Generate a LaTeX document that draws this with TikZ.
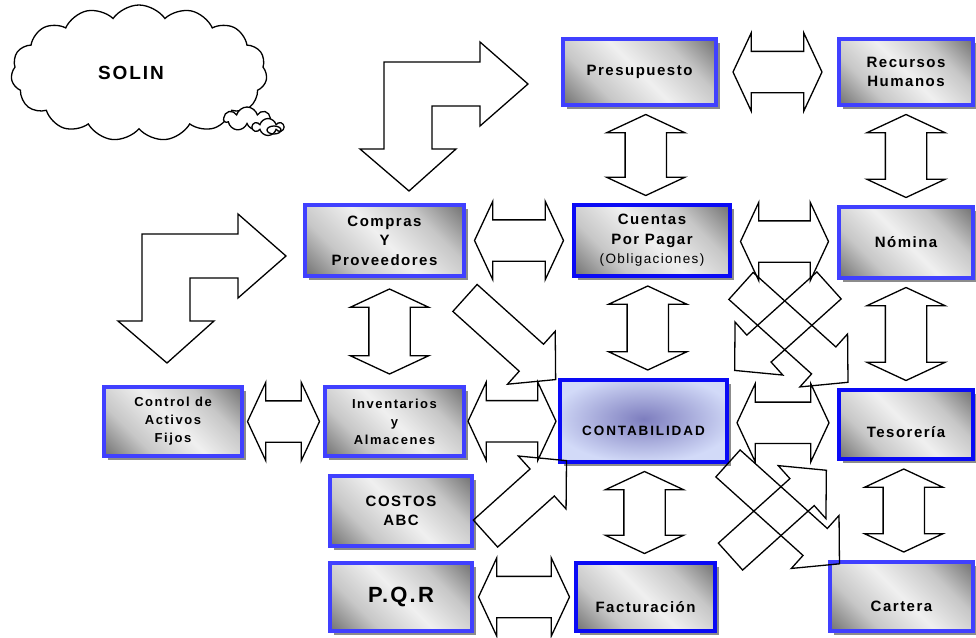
\documentclass[tikz,border=0pt]{standalone}
\usepackage{fontspec}
\setmainfont{Liberation Sans}
\newfontfamily\boxfont{Liberation Sans}[LetterSpace=10]
\newfontfamily\smallfont{Liberation Sans}[LetterSpace=12]
\newfontfamily\contfont{Liberation Sans}[LetterSpace=14]
\usetikzlibrary{calc,shapes.symbols,shapes.arrows,shapes.geometric,shadows}
\definecolor{boxblue}{RGB}{64,64,255}
\definecolor{deepblue}{RGB}{10,10,245}
\definecolor{contfill}{RGB}{210,218,248}
\definecolor{contspot}{RGB}{125,125,190}
\pgfdeclareverticalshading{brillo}{100bp}{color(0bp)=(black!55); color(15bp)=(black!55);
  color(32bp)=(black!22); color(50bp)=(black!6); color(68bp)=(black!22);
  color(85bp)=(black!55); color(100bp)=(black!55)}

\tikzset{
  modulo/.style={rectangle, draw=boxblue, line width=4pt, inner sep=0pt, align=center,
    font=\boxfont\bfseries\fontsize{15}{19.5}\selectfont,
    drop shadow={shadow xshift=4pt, shadow yshift=-4pt, fill=black!45, opacity=1}},
  gris/.style={modulo, shading=brillo, shading angle=-45},
  doble/.style={double arrow, draw, line width=1.3pt, inner xsep=0pt, inner ysep=20pt,
    double arrow head extend=18.5pt, double arrow tip angle=130},
  flecha/.style={single arrow, draw, line width=1.3pt, inner xsep=0pt, inner ysep=17.5pt,
    single arrow head extend=17.5pt, single arrow tip angle=95, anchor=tail},
  codo/.pic={\draw[line width=1.3pt] (0,0) -- (96,0) -- (96,-20) -- (144,22) -- (96,64) -- (96,44)
    -- (48,44) -- (48,87) -- (72,87) -- (25,129) -- (-24,87) -- (0,87) -- cycle;}
}

\begin{document}
\begin{tikzpicture}[x=1pt,y=-1pt]
\useasboundingbox (0,0) rectangle (976,637);
% nube
\node [cloud, draw, line width=1.3pt, cloud puffs=15, cloud puff arc=110, minimum width=256pt, minimum height=136pt,
  font=\boxfont\bfseries\fontsize{19}{22}\selectfont] at (139,73) (solin) {SOLIN\hspace*{16pt}};
\node [cloud, draw, fill=white, line width=1.3pt, cloud puffs=7, minimum width=46pt, minimum height=24pt, inner sep=0pt] at (247,119) (burbuja) {};
\node [cloud, draw, fill=white, line width=1.3pt, cloud puffs=6, minimum width=30pt, minimum height=17pt, inner sep=0pt] at (268,127) (burbujita) {};
\node [ellipse, draw, line width=1.3pt, minimum width=14pt, minimum height=8pt, inner sep=0pt] at (274,130) (ojo) {};
% modulos
\node [gris, minimum width=153pt, minimum height=66pt] at (639.5,72) (pres) {Presupuesto};
\node [gris, minimum width=134pt, minimum height=66pt] at (906,72) (rh) {Recursos\\Humanos};
\node [gris, minimum width=159pt, minimum height=71pt] at (384.5,240.5) (comp) {Compras\\Y\\Proveedores};
\node [gris, draw=deepblue, minimum width=156pt, minimum height=71pt] at (652,240.5) (cxp) {Cuentas\\Por Pagar\\{\mdseries\fontsize{13.5}{19.5}\selectfont(Obligaciones)}};
\node [gris, minimum width=134pt, minimum height=71pt] at (906,242.5) (nom) {Nómina};
\node [gris, minimum width=138pt, minimum height=69pt, font=\smallfont\bfseries\fontsize{13}{18}\selectfont] at (173,421.5) (caf) {Control de\\Activos\\Fijos};
\node [gris, minimum width=139pt, minimum height=69pt, font=\smallfont\bfseries\fontsize{13}{18}\selectfont] at (394.5,421.5) (inv) {Inventarios\\y\\Almacenes};
\node [modulo, draw=deepblue, fill=contfill, minimum width=167pt, minimum height=82pt, text height=28pt, text depth=0pt,
  font=\contfont\bfseries\fontsize{13.5}{19}\selectfont,
  path picture={\shade[inner color=contspot, outer color=contfill] ([yshift=2pt]path picture bounding box.center) ellipse (92pt and 44pt);}] at (643.5,421) (cont) {CONTABILIDAD};
\node [gris, draw=deepblue, minimum width=134pt, minimum height=69pt, text height=25pt, text depth=0pt] at (906,424.5) (tes) {Tesorería};
\node [gris, minimum width=142pt, minimum height=70pt] at (401,511) (abc) {COSTOS\\ABC};
\node [gris, minimum width=142pt, minimum height=68pt, font=\boxfont\bfseries\fontsize{22}{24}\selectfont] at (401,597) (pqr) {P.Q.R};
\node [gris, draw=deepblue, minimum width=139pt, minimum height=68pt, text height=30pt, text depth=0pt] at (645.5,597) (fact) {Facturación};
\node [gris, minimum width=143pt, minimum height=69pt, text height=30pt, text depth=0pt] at (901.5,596.5) (cart) {Cartera};
%
% flechas
\node [doble, minimum height=89pt] at ($(pres.east)!.5!(rh.west)$) (pres-rh) {};
\node [doble, minimum height=89pt] at ($(comp.east)!.5!(cxp.west)$) (comp-cxp) {};
\node [doble, minimum height=88pt] at ($(cxp.east)!.5!(nom.west)$) (cxp-nom) {};
\node [doble, minimum height=72pt] at ($(caf.east)!.5!(inv.west)$) (caf-inv) {};
\node [doble, minimum height=88pt] at ($(inv.east)!.5!(cont.west)$) (inv-cont) {};
\node [doble, minimum height=92pt] at ($(cont.east)!.5!(tes.west)$) (cont-tes) {};
\node [doble, minimum height=91pt] at ($(pqr.east)!.5!(fact.west)$) (pqr-fact) {};
\node [doble, rotate=90, minimum height=81pt] at ($(pres.south)!.5!(cxp.north)$) (pres-cxp) {};
\node [doble, rotate=90, minimum height=83pt] at ($(rh.south)!.5!(nom.north)$) (rh-nom) {};
\node [doble, rotate=90, minimum height=85pt] at ($(comp.south)!.5!(inv.north)$) (comp-inv) {};
\node [doble, rotate=90, minimum height=84pt] at ($(cxp.south)!.5!(cont.north)$) (cxp-cont) {};
\node [doble, rotate=90, minimum height=93pt] at ($(nom.south)!.5!(tes.north)$) (nom-tes) {};
\node [doble, rotate=90, minimum height=83pt] at ($(tes.south)!.5!(cart.north)$) (tes-cart) {};
\node [doble, rotate=90, minimum height=82pt] at ($(cont.south)!.5!(fact.north)$) (cont-fact) {};
%
\node [flecha, rotate=-42, minimum height=122pt] at (464.5,297.5) (comp-cont) {};
\node [flecha, rotate=42, minimum height=109pt] at (485,534) (abc-cont) {};
\node [flecha, rotate=-138, minimum height=127pt] at (829.5,285) (nom-cont) {};
\node [flecha, rotate=-42, minimum height=144pt] at (740.5,285.5) (cxp-tes) {};
\node [flecha, rotate=42, minimum height=129pt] at (730,557) (fact-tes) {};
\node [flecha, rotate=-42, minimum height=150pt] at (727.5,463) (cont-cart) {};
%
\pic at (384,62) {codo};
\pic at (142,234) {codo};
\end{tikzpicture}
\end{document}
